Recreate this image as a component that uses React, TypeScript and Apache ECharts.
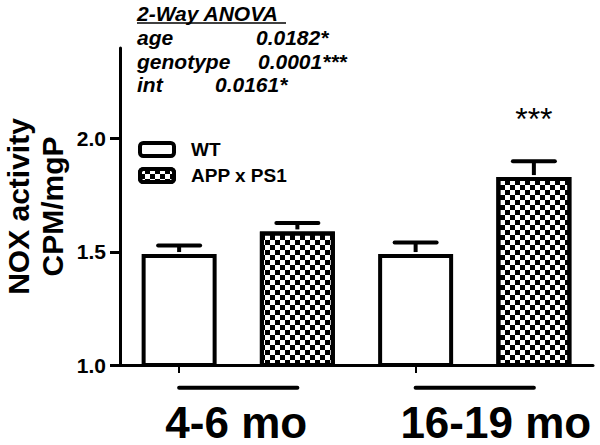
import React, { useEffect, useRef } from "react";
import * as echarts from "echarts";

const FONT = "Liberation Sans, Arial, Helvetica, sans-serif";

const categories = ["WT 4-6 mo", "APP x PS1 4-6 mo", "WT 16-19 mo", "APP x PS1 16-19 mo"];
const genotypes = ["WT", "APP x PS1", "WT", "APP x PS1"];
const seriesNames = ["WT", "APP x PS1"];
const means = [1.49, 1.59, 1.49, 1.83];
const sems = [0.038, 0.037, 0.051, 0.07];
const significance = ["", "", "", "***"];
const groupLabels = ["4-6 mo", "16-19 mo"];
const groupSpans = [
  [0, 1],
  [2, 3],
];
const yTicks = [1.0, 1.5, 2.0];
const yMin = 1.0;
const yMax = 2.4;
const anovaTitle = "2-Way ANOVA";
const anovaFactors = ["age", "genotype", "int"];
const anovaP = ["0.0182*", "0.0001***", "0.0161*"];

const anovaValueX = [256, 258, 215];

export default function App() {
  const ref = useRef<HTMLDivElement>(null);

  useEffect(() => {
    if (!ref.current) return;
    const chart = echarts.init(ref.current, null, { renderer: "svg" });

    const barSeries = seriesNames.map((name) => ({
      name,
      type: "bar",
      xAxisIndex: 0,
      yAxisIndex: 0,
      barWidth: 75,
      barGap: "-100%",
      data: means.map((v, i) => (genotypes[i] === name ? v : "-")),
      itemStyle: {
        color: "#fff",
        borderColor: "#000",
        borderWidth: 4,
        decal:
          name === "WT"
            ? "none"
            : {
                symbol: "rect",
                symbolSize: 1,
                color: "#000",
                dashArrayX: [
                  [5, 5],
                  [0, 5, 5, 0],
                ],
                dashArrayY: [5, 0],
                rotation: 0,
              },
      },
      emphasis: { disabled: true },
      z: 2,
    }));

    const graphicEls: any[] = [
      {
        type: "text",
        x: 137,
        y: 13,
        style: {
          text: anovaTitle,
          fill: "#000",
          font: `italic bold 21px ${FONT}`,
          align: "left",
          verticalAlign: "middle",
        },
      },
      {
        type: "line",
        shape: { x1: 137, y1: 23, x2: 286, y2: 23 },
        style: { stroke: "#000", lineWidth: 1.5 },
      },
    ];
    anovaFactors.forEach((f, i) => {
      const y = 37.5 + i * 23.5;
      graphicEls.push({
        type: "text",
        x: 137,
        y,
        style: {
          text: f,
          fill: "#000",
          font: `italic bold 21px ${FONT}`,
          align: "left",
          verticalAlign: "middle",
        },
      });
      graphicEls.push({
        type: "text",
        x: anovaValueX[i],
        y,
        style: {
          text: anovaP[i],
          fill: "#000",
          font: `italic bold 21px ${FONT}`,
          align: "left",
          verticalAlign: "middle",
        },
      });
    });

    const option: any = {
      animation: false,
      backgroundColor: "#fff",
      grid: { left: 120, right: 7, top: 48, bottom: 80, containLabel: false, outerBoundsMode: "none" },
      legend: {
        data: seriesNames,
        orient: "vertical",
        left: 133,
        top: 135,
        itemWidth: 34,
        itemHeight: 13,
        itemGap: 7,
        icon: "roundRect",
        selectedMode: false,
        itemStyle: { borderWidth: 4, borderColor: "#000" },
        textStyle: {
          fontSize: 19,
          fontWeight: "bold",
          fontFamily: FONT,
          color: "#000",
          padding: [0, 0, 0, 12],
        },
      },
      xAxis: [
        {
          type: "category",
          data: categories,
          position: "bottom",
          axisLine: { show: true, lineStyle: { color: "#000", width: 3 } },
          axisTick: { show: true, alignWithLabel: true, length: 8, lineStyle: { color: "#000", width: 2 } },
          axisLabel: { show: false },
          splitLine: { show: false },
        },
        {
          type: "category",
          data: groupLabels,
          position: "bottom",
          offset: 0,
          axisLine: { show: false },
          axisTick: { show: false },
          splitLine: { show: false },
          axisLabel: {
            margin: 35,
            formatter: (v: string, i: number) => (i === 0 ? `{a|${v}}` : `{b|${v}}`),
            rich: {
              a: { fontSize: 44, fontWeight: "bold", fontFamily: FONT, color: "#000", padding: [0, 4, 0, 0] },
              b: { fontSize: 44, fontWeight: "bold", fontFamily: FONT, color: "#000", padding: [0, 0, 0, 42] },
            },
          },
        },
      ],
      yAxis: {
        type: "value",
        min: yMin,
        max: yMax,
        interval: 0.5,
        name: "NOX activity\nCPM/mgP",
        nameLocation: "middle",
        nameRotate: 90,
        nameGap: 51,
        nameMoveOverlap: false,
        nameTextStyle: { fontSize: 30, fontWeight: "bold", fontFamily: FONT, color: "#000", lineHeight: 34 },
        axisLine: { show: true, lineStyle: { color: "#000", width: 3 } },
        axisTick: { show: true, length: 10, customValues: yTicks, lineStyle: { color: "#000", width: 3 } },
        axisLabel: {
          customValues: yTicks,
          margin: 14,
          fontSize: 21,
          fontWeight: "bold",
          fontFamily: FONT,
          color: "#000",
          formatter: (v: number) => v.toFixed(1),
        },
        splitLine: { show: false },
      },
      series: [
        ...barSeries,
        {
          type: "custom",
          name: "errors",
          xAxisIndex: 0,
          yAxisIndex: 0,
          clip: false,
          z: 3,
          data: means.map((m, i) => [i, m, sems[i]]),
          encode: { x: 0, y: 1 },
          renderItem: (params: any, api: any) => {
            const x = api.value(0);
            const m = api.value(1);
            const e = api.value(2);
            const p0 = api.coord([x, m]);
            const p1 = api.coord([x, m + e]);
            const half = 21;
            const children: any[] = [
              {
                type: "line",
                shape: { x1: p0[0], y1: p0[1] - 2, x2: p0[0], y2: p1[1] },
                style: { stroke: "#000", lineWidth: 4 },
              },
              {
                type: "line",
                shape: { x1: p0[0] - half, y1: p1[1], x2: p0[0] + half, y2: p1[1] },
                style: { stroke: "#000", lineWidth: 4, lineCap: "round" },
              },
            ];
            const sig = significance[params.dataIndex];
            if (sig) {
              children.push({
                type: "text",
                x: p1[0],
                y: p1[1] - 26,
                style: {
                  text: sig,
                  fill: "#000",
                  font: `32px ${FONT}`,
                  align: "center",
                  verticalAlign: "bottom",
                },
              });
            }
            return { type: "group", children };
          },
        },
        {
          type: "custom",
          name: "groups",
          xAxisIndex: 0,
          yAxisIndex: 0,
          clip: false,
          z: 3,
          data: groupSpans.map((s) => [s[0], s[1]]),
          renderItem: (params: any, api: any) => {
            const a = api.coord([api.value(0), 0.9]);
            const b = api.coord([api.value(1), 0.9]);
            return {
              type: "line",
              shape: { x1: a[0], y1: a[1], x2: b[0], y2: b[1] },
              style: { stroke: "#000", lineWidth: 4, lineCap: "round" },
            };
          },
        },
      ],
      graphic: graphicEls,
    };

    chart.setOption(option);
    return () => chart.dispose();
  }, []);

  return (
    <div
      ref={ref}
      style={{ position: "absolute", left: 0, top: 0, width: 600, height: 445, background: "#fff" }}
    />
  );
}
